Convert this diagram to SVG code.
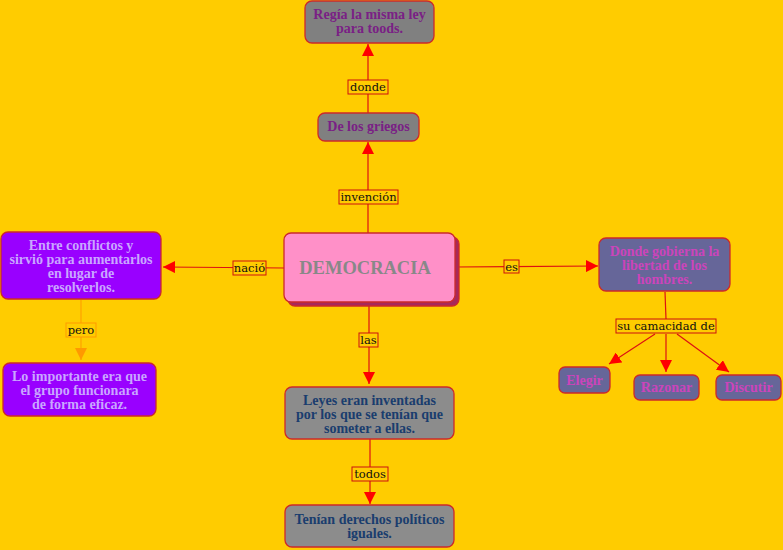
<svg xmlns="http://www.w3.org/2000/svg" width="783" height="550" viewBox="0 0 783 550">
<defs>
<style>
.node rect{stroke:#cc2a2a;stroke-width:1.3}
.t{font-family:"Liberation Serif","DejaVu Serif",serif;font-weight:bold;font-size:14px;text-anchor:middle}
.big{font-family:"Liberation Serif","DejaVu Serif",serif;font-weight:bold;font-size:18.5px;text-anchor:middle}
.lbl rect{fill:#ffcc00;stroke:#cc1111;stroke-width:1}
.lbl text{font-family:"DejaVu Serif","Liberation Serif",serif;font-size:11.5px;fill:#111;text-anchor:middle}
.c{stroke:#dd1111;stroke-width:1.2;fill:none}
</style>
<marker id="ar" viewBox="0 0 10 10" refX="10" refY="5" markerWidth="12" markerHeight="12" markerUnits="userSpaceOnUse" orient="auto"><path d="M0,0L10,5L0,10z" fill="#ff0000"/></marker>
<marker id="ao" viewBox="0 0 10 10" refX="10" refY="5" markerWidth="12" markerHeight="12" markerUnits="userSpaceOnUse" orient="auto"><path d="M0,0L10,5L0,10z" fill="#ff9900"/></marker>
</defs>
<rect width="783" height="550" fill="#ffcc00"/>
<g id="connectors">
<line class="c" x1="368" y1="113" x2="368" y2="44" marker-end="url(#ar)"/>
<line class="c" x1="368" y1="233" x2="368" y2="142" marker-end="url(#ar)"/>
<line class="c" x1="284" y1="268" x2="163" y2="267" marker-end="url(#ar)"/>
<line x1="81" y1="300" x2="81" y2="360" stroke="#ff9900" stroke-width="1" marker-end="url(#ao)"/>
<line class="c" x1="455" y1="267" x2="598" y2="266" marker-end="url(#ar)"/>
<line class="c" x1="665" y1="292" x2="666" y2="319"/>
<line class="c" x1="655" y1="334" x2="609" y2="364" marker-end="url(#ar)"/>
<line class="c" x1="666" y1="334" x2="666" y2="372" marker-end="url(#ar)"/>
<line class="c" x1="677" y1="334" x2="729" y2="372" marker-end="url(#ar)"/>
<line class="c" x1="369" y1="302" x2="369" y2="384" marker-end="url(#ar)"/>
<line class="c" x1="370" y1="439" x2="370" y2="504" marker-end="url(#ar)"/>
<g class="lbl"><rect x="348" y="80" width="40" height="14"/><text x="368" y="91">donde</text></g>
<g class="lbl"><rect x="339" y="190" width="59" height="14"/><text x="368.5" y="201">invención</text></g>
<g class="lbl"><rect x="233" y="261" width="33" height="14"/><text x="249.5" y="272">nació</text></g>
<g class="lbl"><rect x="66" y="323" width="30" height="14" style="stroke:#ff9900"/><text x="81" y="334">pero</text></g>
<g class="lbl"><rect x="504" y="260" width="15" height="13"/><text x="511.5" y="270.5">es</text></g>
<g class="lbl"><rect x="616" y="319" width="100" height="14"/><text x="666" y="330">su camacidad de</text></g>
<g class="lbl"><rect x="359" y="333" width="19" height="14"/><text x="368.5" y="344">las</text></g>
<g class="lbl"><rect x="352" y="467" width="36" height="14"/><text x="370" y="478">todos</text></g>
</g>
<g id="n-regia" class="node"><rect x="305" y="1" width="129" height="42" rx="7" fill="#808080"/><text class="t" fill="#7a2085"><tspan x="369.5" y="19">Regía la misma ley</tspan><tspan x="369.5" y="33">para toods.</tspan></text></g>
<g id="n-griegos" class="node"><rect x="318" y="113" width="101" height="28" rx="7" fill="#808080"/><text class="t" x="368.5" y="131" fill="#7a2085">De los griegos</text></g>
<g id="n-democracia" class="node"><rect x="288" y="237" width="171" height="69" rx="7" fill="#a8285a" stroke="none"/><rect x="284" y="233" width="171" height="69" rx="7" fill="#ff90c8"/><text class="big" x="365" y="274" fill="#888888">DEMOCRACIA</text></g>
<g id="n-entre" class="node"><rect x="1" y="232" width="160" height="67" rx="7" fill="#9900ff"/><text class="t" fill="#c9a6ff"><tspan x="81" y="250">Entre conflictos y</tspan><tspan x="81" y="264">sirvió para aumentarlos</tspan><tspan x="81" y="278">en lugar de</tspan><tspan x="81" y="292">resolverlos.</tspan></text></g>
<g id="n-importante" class="node"><rect x="3" y="363" width="153" height="53" rx="7" fill="#9900ff"/><text class="t" fill="#c9a6ff"><tspan x="79.5" y="381">Lo importante era que</tspan><tspan x="79.5" y="395">el grupo funcionara</tspan><tspan x="79.5" y="409">de forma eficaz.</tspan></text></g>
<g id="n-donde" class="node"><rect x="599" y="238" width="131" height="53" rx="7" fill="#666699"/><text class="t" fill="#cc44bb"><tspan x="664.5" y="256">Donde gobierna la</tspan><tspan x="664.5" y="270">libertad de los</tspan><tspan x="664.5" y="284">hombres.</tspan></text></g>
<g id="n-elegir" class="node"><rect x="559" y="367" width="51" height="26" rx="6" fill="#666699"/><text class="t" x="584.5" y="385" fill="#cc44bb">Elegir</text></g>
<g id="n-razonar" class="node"><rect x="634" y="375" width="65" height="25" rx="6" fill="#666699"/><text class="t" x="666.5" y="392" fill="#cc44bb">Razonar</text></g>
<g id="n-discutir" class="node"><rect x="716" y="375" width="65" height="25" rx="6" fill="#666699"/><text class="t" x="748.5" y="392" fill="#cc44bb">Discutir</text></g>
<g id="n-leyes" class="node"><rect x="285" y="387" width="169" height="52" rx="7" fill="#8c8c8c"/><text class="t" fill="#1a3d6e"><tspan x="369.5" y="405">Leyes eran inventadas</tspan><tspan x="369.5" y="419">por los que se tenían que</tspan><tspan x="369.5" y="433">someter a ellas.</tspan></text></g>
<g id="n-tenian" class="node"><rect x="285" y="505" width="169" height="42" rx="7" fill="#8c8c8c"/><text class="t" fill="#1a3d6e"><tspan x="369.5" y="524">Tenían derechos políticos</tspan><tspan x="369.5" y="538">iguales.</tspan></text></g>
</svg>
